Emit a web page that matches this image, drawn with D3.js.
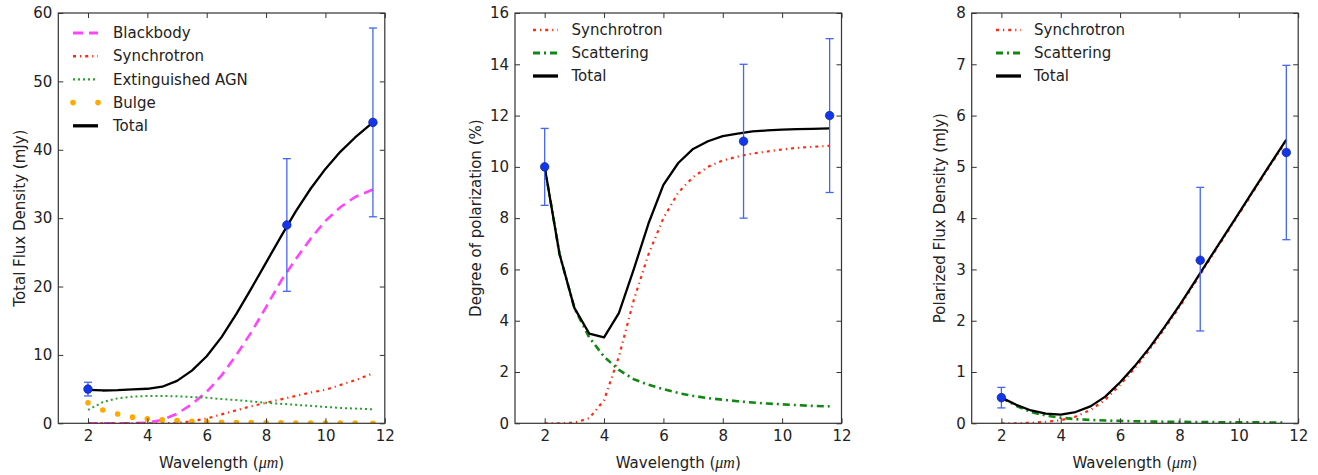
<!DOCTYPE html>
<html>
<head>
<meta charset="utf-8">
<script src="https://cdn.jsdelivr.net/npm/d3@7"></script>
<style>
    body { margin: 0; background: #fff; }
    text { font-family: "DejaVu Sans", sans-serif; fill: #222; }
</style>
</head>
<body>
<svg id="chart" width="1318" height="475"></svg>
<script>
// Model wavelength grid (micron) shared by all panels
const wave = [2, 2.5, 3, 3.5, 4, 4.5, 5, 5.5, 6, 6.5, 7, 7.5, 8, 8.5, 9, 9.5, 10, 10.5, 11, 11.6];

// Observed points
const obsWave = [2, 8.7, 11.6];

// Panel 1: total flux density (mJy)
const fluxObs = [5, 29, 44];
const fluxLo = [4, 19.3, 30.2];
const fluxHi = [6, 38.7, 57.8];
const blackbody = [0, 0, 0, 0, 0.1, 0.5, 1.4, 2.8, 4.6, 7.0, 10.0, 13.3, 17.0, 20.8, 24.0, 27.0, 29.6, 31.6, 33.1, 34.2];
const synchFlux = [0, 0, 0, 0, 0, 0, 0.05, 0.3, 0.7, 1.3, 1.9, 2.5, 3.0, 3.5, 4.0, 4.5, 4.9, 5.6, 6.3, 7.3];
const agn = [1.95, 3.1, 3.65, 3.9, 4.0, 4.0, 3.95, 3.85, 3.75, 3.55, 3.4, 3.2, 3.0, 2.85, 2.7, 2.55, 2.4, 2.25, 2.15, 2.05];
const bulge = [3.0, 1.95, 1.35, 0.9, 0.65, 0.5, 0.4, 0.3, 0.2, 0.15, 0.12, 0.1, 0.08, 0.06, 0.05, 0.04, 0.03, 0.02, 0.02, 0.01];
const totalFlux = [4.9, 4.8, 4.85, 4.95, 5.05, 5.35, 6.2, 7.7, 9.8, 12.6, 16.0, 19.7, 23.5, 27.3, 31.0, 34.3, 37.2, 39.7, 41.8, 44.0];

// Panel 2: degree of polarization (%)
const polObs = [10, 11, 12];
const polLo = [8.5, 8, 9];
const polHi = [11.5, 14, 15];
const synchPol = [0, 0, 0.02, 0.2, 0.9, 2.6, 4.8, 6.6, 8.0, 9.0, 9.6, 10.0, 10.25, 10.4, 10.52, 10.6, 10.68, 10.74, 10.78, 10.82];
const scatPol = [10, 6.6, 4.5, 3.35, 2.6, 2.08, 1.72, 1.5, 1.33, 1.18, 1.07, 0.98, 0.92, 0.86, 0.81, 0.77, 0.74, 0.71, 0.68, 0.66];
const totalPol = [10, 6.6, 4.5, 3.5, 3.35, 4.3, 6.0, 7.8, 9.3, 10.15, 10.7, 11.0, 11.2, 11.3, 11.38, 11.42, 11.45, 11.47, 11.48, 11.5];

// Panel 3: polarized flux density (mJy)
const pfluxObs = [0.5, 3.18, 5.28];
const pfluxLo = [0.3, 1.8, 3.58];
const pfluxHi = [0.7, 4.6, 6.98];
const synchPflux = [0, 0, 0.01, 0.03, 0.06, 0.13, 0.26, 0.46, 0.75, 1.08, 1.44, 1.85, 2.27, 2.72, 3.18, 3.63, 4.08, 4.53, 4.98, 5.51];
const scatPflux = [0.5, 0.34, 0.22, 0.15, 0.11, 0.08, 0.065, 0.055, 0.047, 0.04, 0.035, 0.031, 0.028, 0.025, 0.023, 0.021, 0.019, 0.018, 0.017, 0.016];
const totalPflux = [0.5, 0.36, 0.25, 0.19, 0.17, 0.22, 0.33, 0.52, 0.8, 1.12, 1.48, 1.88, 2.3, 2.75, 3.2, 3.65, 4.1, 4.55, 5.0, 5.53];

// Tick values
const xTicks = [2, 4, 6, 8, 10, 12];
const yTicks1 = [0, 10, 20, 30, 40, 50, 60];
const yTicks2 = [0, 2, 4, 6, 8, 10, 12, 14, 16];
const yTicks3 = [0, 1, 2, 3, 4, 5, 6, 7, 8];

// Line styles
const styles = {
    blackbody: { color: "#ff44ff", width: 2.6, dash: "10,6" },
    synch: { color: "#ff2a10", width: 2.2, dash: "3,4,1.2,4" },
    agn: { color: "#2ca02c", width: 2, dash: "2,3" },
    bulge: { color: "#ffaa00", dots: true },
    scat: { color: "#118811", width: 2.6, dash: "7,4,2,4" },
    total: { color: "#000", width: 2.3, dash: null }
};

const panels = [
    {
        left: 58.3, yMax: 60, yTicks: yTicks1, ylabel: "Total Flux Density (mJy)", ylabelX: 25,
        legendX: 73, legendY: 33, legendStep: 23.2, textGap: 40,
        series: [
            { name: "Blackbody", values: blackbody, style: styles.blackbody },
            { name: "Synchrotron", values: synchFlux, style: styles.synch },
            { name: "Extinguished AGN", values: agn, style: styles.agn },
            { name: "Bulge", values: bulge, style: styles.bulge },
            { name: "Total", values: totalFlux, style: styles.total }
        ],
        obs: fluxObs, lo: fluxLo, hi: fluxHi
    },
    {
        left: 515, yMax: 16, yTicks: yTicks2, ylabel: "Degree of polarization (%)", ylabelX: 481,
        legendX: 533, legendY: 30, legendStep: 23, textGap: 38.5,
        series: [
            { name: "Synchrotron", values: synchPol, style: styles.synch },
            { name: "Scattering", values: scatPol, style: styles.scat },
            { name: "Total", values: totalPol, style: styles.total }
        ],
        obs: polObs, lo: polLo, hi: polHi
    },
    {
        left: 971.7, yMax: 8, yTicks: yTicks3, ylabel: "Polarized Flux Density (mJy)", ylabelX: 945,
        legendX: 996, legendY: 30, legendStep: 23, textGap: 38,
        series: [
            { name: "Synchrotron", values: synchPflux, style: styles.synch },
            { name: "Scattering", values: scatPflux, style: styles.scat },
            { name: "Total", values: totalPflux, style: styles.total }
        ],
        obs: pfluxObs, lo: pfluxLo, hi: pfluxHi
    }
];

const plotTop = 13, plotBottom = 423.3, plotWidth = 326.5;
const svg = d3.select("#chart");

panels.forEach((p, i) => {
    const x = d3.scaleLinear().domain([1, 12]).range([p.left, p.left + plotWidth]);
    const y = d3.scaleLinear().domain([0, p.yMax]).range([plotBottom, plotTop]);

    // clip so the marks stay inside the frame
    svg.append("clipPath").attr("id", "clip" + i)
        .append("rect")
        .attr("x", p.left).attr("y", plotTop)
        .attr("width", plotWidth).attr("height", plotBottom - plotTop);

    const g = svg.append("g");
    const plot = g.append("g").attr("clip-path", `url(#clip${i})`);

    const line = d3.line().x((d, j) => x(wave[j])).y(d => y(d));

    p.series.forEach(s => {
        if (s.style.dots) {
            plot.selectAll(null).data(s.values).enter().append("circle")
                .attr("cx", (d, j) => x(wave[j]))
                .attr("cy", d => y(d))
                .attr("r", 2.8)
                .attr("fill", s.style.color);
        } else {
            plot.append("path")
                .datum(s.values)
                .attr("d", line)
                .attr("fill", "none")
                .attr("stroke", s.style.color)
                .attr("stroke-width", s.style.width)
                .attr("stroke-dasharray", s.style.dash)
                .attr("stroke-linejoin", "round");
        }
    });

    // error bars and observed points
    const errColor = "#4466f5";
    p.obs.forEach((v, j) => {
        const cx = x(obsWave[j]);
        g.append("line")
            .attr("x1", cx).attr("x2", cx)
            .attr("y1", y(p.lo[j])).attr("y2", y(p.hi[j]))
            .attr("stroke", errColor).attr("stroke-width", 1.3);
        [p.lo[j], p.hi[j]].forEach(c => {
            g.append("line")
                .attr("x1", cx - 4).attr("x2", cx + 4)
                .attr("y1", y(c)).attr("y2", y(c))
                .attr("stroke", errColor).attr("stroke-width", 1.3);
        });
        g.append("circle")
            .attr("cx", cx).attr("cy", y(v)).attr("r", 4.3)
            .attr("fill", "#1136ee")
            .attr("stroke", "#0a1c70").attr("stroke-width", 0.6);
    });

    // axes with inward ticks on all four sides
    g.append("g")
        .attr("transform", `translate(0,${plotBottom})`)
        .call(d3.axisBottom(x).tickValues(xTicks).tickSize(-5).tickSizeOuter(0).tickPadding(7))
        .call(a => a.select(".domain").remove())
        .selectAll("text").style("font-size", "15px");
    g.append("g")
        .attr("transform", `translate(0,${plotTop})`)
        .call(d3.axisTop(x).tickValues(xTicks).tickSize(-5).tickSizeOuter(0).tickFormat(""))
        .call(a => a.select(".domain").remove());
    g.append("g")
        .attr("transform", `translate(${p.left},0)`)
        .call(d3.axisLeft(y).tickValues(p.yTicks).tickSize(-5).tickSizeOuter(0).tickPadding(6))
        .call(a => a.select(".domain").remove())
        .selectAll("text").style("font-size", "15px");
    g.append("g")
        .attr("transform", `translate(${p.left + plotWidth},0)`)
        .call(d3.axisRight(y).tickValues(p.yTicks).tickSize(-5).tickSizeOuter(0).tickFormat(""))
        .call(a => a.select(".domain").remove());
    g.selectAll(".tick line").attr("stroke", "#333");
    g.selectAll(".tick text").attr("fill", "#222").attr("font-family", "DejaVu Sans");

    // frame
    g.append("rect")
        .attr("x", p.left).attr("y", plotTop)
        .attr("width", plotWidth).attr("height", plotBottom - plotTop)
        .attr("fill", "none").attr("stroke", "#333").attr("stroke-width", 1.2);

    // axis labels
    const xl = g.append("text")
        .attr("x", p.left + plotWidth / 2).attr("y", 468)
        .attr("text-anchor", "middle").style("font-size", "15px");
    xl.append("tspan").text("Wavelength (");
    xl.append("tspan").text("μm")
        .style("font-family", "'Liberation Serif', serif").style("font-style", "italic").style("font-size", "16px");
    xl.append("tspan").text(")");

    g.append("text")
        .attr("transform", `translate(${p.ylabelX},${(plotTop + plotBottom) / 2}) rotate(-90)`)
        .attr("text-anchor", "middle").style("font-size", "15px")
        .text(p.ylabel);

    // legend
    p.series.forEach((s, k) => {
        const ly = p.legendY + k * p.legendStep;
        if (s.style.dots) {
            [0, 25].forEach(dx => {
                g.append("circle").attr("cx", p.legendX + dx).attr("cy", ly).attr("r", 2.8).attr("fill", s.style.color);
            });
        } else {
            g.append("line")
                .attr("x1", p.legendX).attr("x2", p.legendX + 25)
                .attr("y1", ly).attr("y2", ly)
                .attr("stroke", s.style.color)
                .attr("stroke-width", s.style.width + (s.style.dash ? 0.4 : 1))
                .attr("stroke-dasharray", s.style.dash);
        }
        g.append("text")
            .attr("x", p.legendX + p.textGap).attr("y", ly)
            .attr("dy", "0.35em").style("font-size", "15px")
            .text(s.name);
    });
});
</script>
</body>
</html>
